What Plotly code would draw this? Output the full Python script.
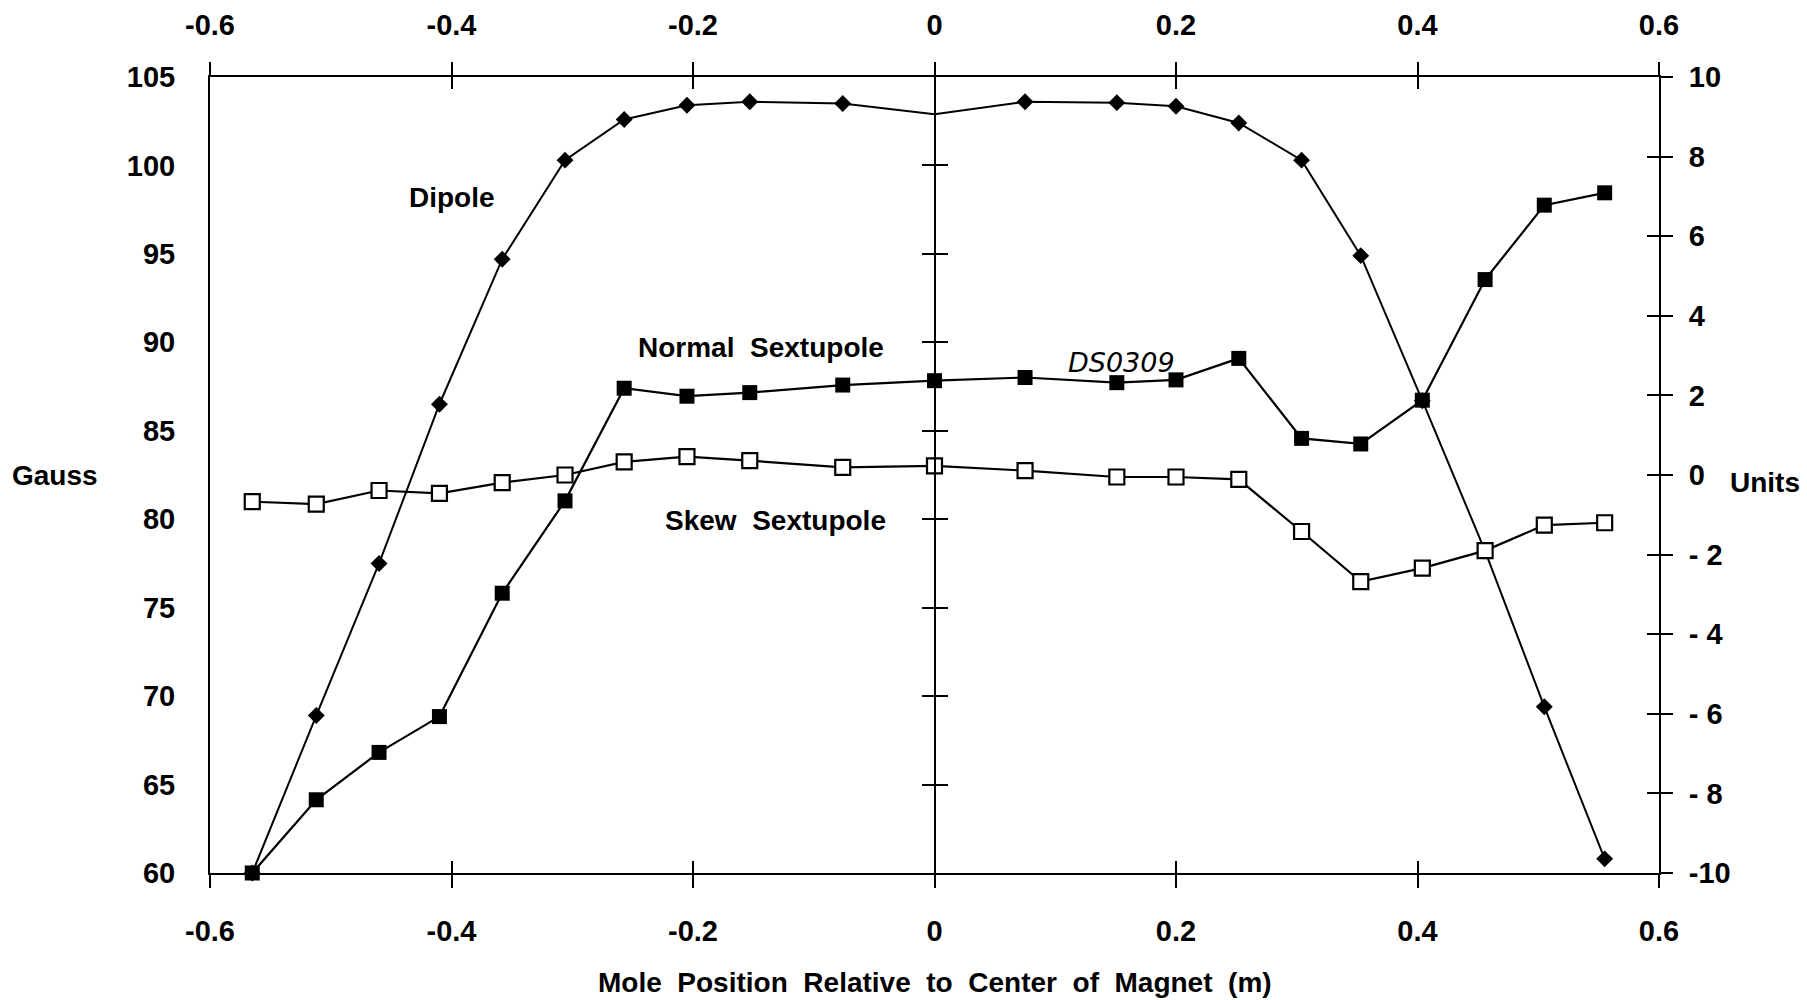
import plotly.graph_objects as go

# ---- data ----
position_m = [-0.565, -0.512, -0.460, -0.410, -0.358, -0.306, -0.257, -0.205, -0.153, -0.076,
              0.0, 0.075, 0.151, 0.200, 0.252, 0.304, 0.353, 0.404, 0.456, 0.505, 0.555]
dipole_gauss = [60.0, 68.9, 77.5, 86.5, 94.7, 100.3, 102.6, 103.4, 103.6, 103.5,
                102.9, 103.6, 103.55, 103.35, 102.4, 100.3, 94.9, 86.7, 78.2, 69.4, 60.8]
normal_sext_units = [-10.0, -8.16, -6.97, -6.07, -2.97, -0.65, 2.18, 1.98, 2.07, 2.26,
                     2.37, 2.45, 2.32, 2.39, 2.93, 0.92, 0.78, 1.88, 4.91, 6.78, 7.09]
skew_sext_units = [-0.67, -0.73, -0.39, -0.46, -0.19, 0.0, 0.33, 0.46, 0.36, 0.19,
                   0.23, 0.11, -0.05, -0.05, -0.11, -1.42, -2.68, -2.34, -1.90, -1.26, -1.20]

x_ticks = [-0.6, -0.4, -0.2, 0.0, 0.2, 0.4, 0.6]
x_ticktext = ["-0.6", "-0.4", "-0.2", "0", "0.2", "0.4", "0.6"]
gauss_ticks = [60, 65, 70, 75, 80, 85, 90, 95, 100, 105]
gauss_inner_ticks = [65, 70, 75, 80, 85, 90, 95, 100]
units_ticks = [-10, -8, -6, -4, -2, 0, 2, 4, 6, 8, 10]
units_ticktext = ["-10", "- 8", "- 6", "- 4", "- 2", "0", "2", "4", "6", "8", "10"]

FONT = "Liberation Sans, Arial, sans-serif"
TICKFONT = dict(family=FONT, size=29, color="black", weight="bold")
LBLFONT = dict(family=FONT, size=28, color="black", weight="bold")

# the dipole point on the centre axis is drawn without a visible marker in the original
dipole_marker_sizes = [0 if x == 0.0 else 13 for x in position_m]

fig = go.Figure()

fig.add_trace(go.Scatter(
    x=position_m, y=dipole_gauss, mode="lines+markers", name="Dipole",
    line=dict(color="black", width=2),
    marker=dict(symbol="diamond", size=dipole_marker_sizes, color="black", opacity=1,
                line=dict(width=0)),
    xaxis="x", yaxis="y", cliponaxis=False))
fig.add_trace(go.Scatter(
    x=position_m, y=normal_sext_units, mode="lines+markers", name="Normal Sextupole",
    line=dict(color="black", width=2.2),
    marker=dict(symbol="square", size=15, color="black", opacity=1),
    xaxis="x", yaxis="y2", cliponaxis=False))
fig.add_trace(go.Scatter(
    x=position_m, y=skew_sext_units, mode="lines+markers", name="Skew Sextupole",
    line=dict(color="black", width=2.2),
    marker=dict(symbol="square", size=15, color="white", opacity=1,
                line=dict(color="black", width=2.2)),
    xaxis="x", yaxis="y2", cliponaxis=False))

# invisible helper traces so overlay axes (crossing ticks) are drawn
for xa, ya in [("x2", "y"), ("x3", "y"), ("x4", "y"), ("x", "y3"), ("x", "y4"), ("x", "y5")]:
    fig.add_trace(go.Scatter(x=[None], y=[None], xaxis=xa, yaxis=ya, showlegend=False,
                             hoverinfo="skip", mode="markers"))

common_x = dict(range=[-0.6, 0.6], tickvals=x_ticks, showgrid=False, zeroline=False,
                automargin=False)

fig.update_layout(
    width=1807, height=1000,
    margin=dict(l=210, r=148, t=77, b=127, autoexpand=False),
    paper_bgcolor="white", plot_bgcolor="white",
    showlegend=False,
    xaxis=dict(**common_x, ticktext=x_ticktext, side="bottom", anchor="y",
               showline=True, linecolor="black", linewidth=2,
               ticks="outside", ticklen=13, tickwidth=2, tickcolor="black",
               tickfont=TICKFONT, ticklabelstandoff=18),
    xaxis2=dict(**common_x, ticktext=x_ticktext, side="top", overlaying="x", anchor="y",
                showline=True, linecolor="black", linewidth=2,
                ticks="outside", ticklen=13, tickwidth=2, tickcolor="black",
                tickfont=TICKFONT, ticklabelstandoff=15),
    xaxis3=dict(**common_x, side="bottom", overlaying="x", anchor="y",
                showline=False, showticklabels=False,
                ticks="inside", ticklen=12, tickwidth=2, tickcolor="black"),
    xaxis4=dict(**common_x, side="top", overlaying="x", anchor="y",
                showline=False, showticklabels=False,
                ticks="inside", ticklen=12, tickwidth=2, tickcolor="black"),
    yaxis=dict(range=[60, 105], tickvals=gauss_ticks, side="left", anchor="x",
               showgrid=False, zeroline=False, automargin=False,
               showline=True, linecolor="black", linewidth=2,
               ticks="", tickfont=TICKFONT, ticklabelstandoff=27),
    yaxis2=dict(range=[-10, 10], tickvals=units_ticks, ticktext=units_ticktext,
                side="right", overlaying="y", anchor="x", automargin=False,
                showgrid=False, zeroline=False,
                showline=True, linecolor="black", linewidth=2,
                ticks="outside", ticklen=12, tickwidth=2, tickcolor="black",
                tickfont=TICKFONT, ticklabelstandoff=10),
    yaxis3=dict(range=[-10, 10], tickvals=units_ticks, side="right", overlaying="y",
                anchor="x", showgrid=False, zeroline=False, showline=False, automargin=False,
                showticklabels=False, ticks="inside", ticklen=12, tickwidth=2,
                tickcolor="black"),
    yaxis4=dict(range=[60, 105], tickvals=gauss_inner_ticks, side="left", overlaying="y",
                anchor="free", position=0.5, showgrid=False, zeroline=False, automargin=False,
                showline=True, linecolor="black", linewidth=2, showticklabels=False,
                ticks="outside", ticklen=12, tickwidth=2, tickcolor="black"),
    yaxis5=dict(range=[60, 105], tickvals=gauss_inner_ticks, side="right", overlaying="y",
                anchor="free", position=0.5, showgrid=False, zeroline=False, automargin=False,
                showline=False, showticklabels=False,
                ticks="outside", ticklen=12, tickwidth=2, tickcolor="black"),
)

annotations = [
    dict(text="Dipole", x=-0.4, y=98.2, xref="x", yref="y", font=LBLFONT),
    dict(text="Normal  Sextupole", x=-0.144, y=89.7, xref="x", yref="y", font=LBLFONT),
    dict(text="Skew  Sextupole", x=-0.132, y=79.95, xref="x", yref="y", font=LBLFONT),
    dict(text="DS0309", x=0.155, y=88.85, xref="x", yref="y",
         font=dict(family="DejaVu Sans, sans-serif", size=27, color="black", style="italic")),
    dict(text="Gauss", x=-0.107, y=0.5, xref="paper", yref="paper", font=LBLFONT),
    dict(text="Units", x=1.073, y=0.49, xref="paper", yref="paper", font=LBLFONT),
    dict(text="Mole  Position  Relative  to  Center  of  Magnet  (m)", x=0.5, y=-0.138,
         xref="paper", yref="paper", font=LBLFONT),
]
for a in annotations:
    fig.add_annotation(showarrow=False, xanchor="center", yanchor="middle", **a)

fig.write_html("out.html")
